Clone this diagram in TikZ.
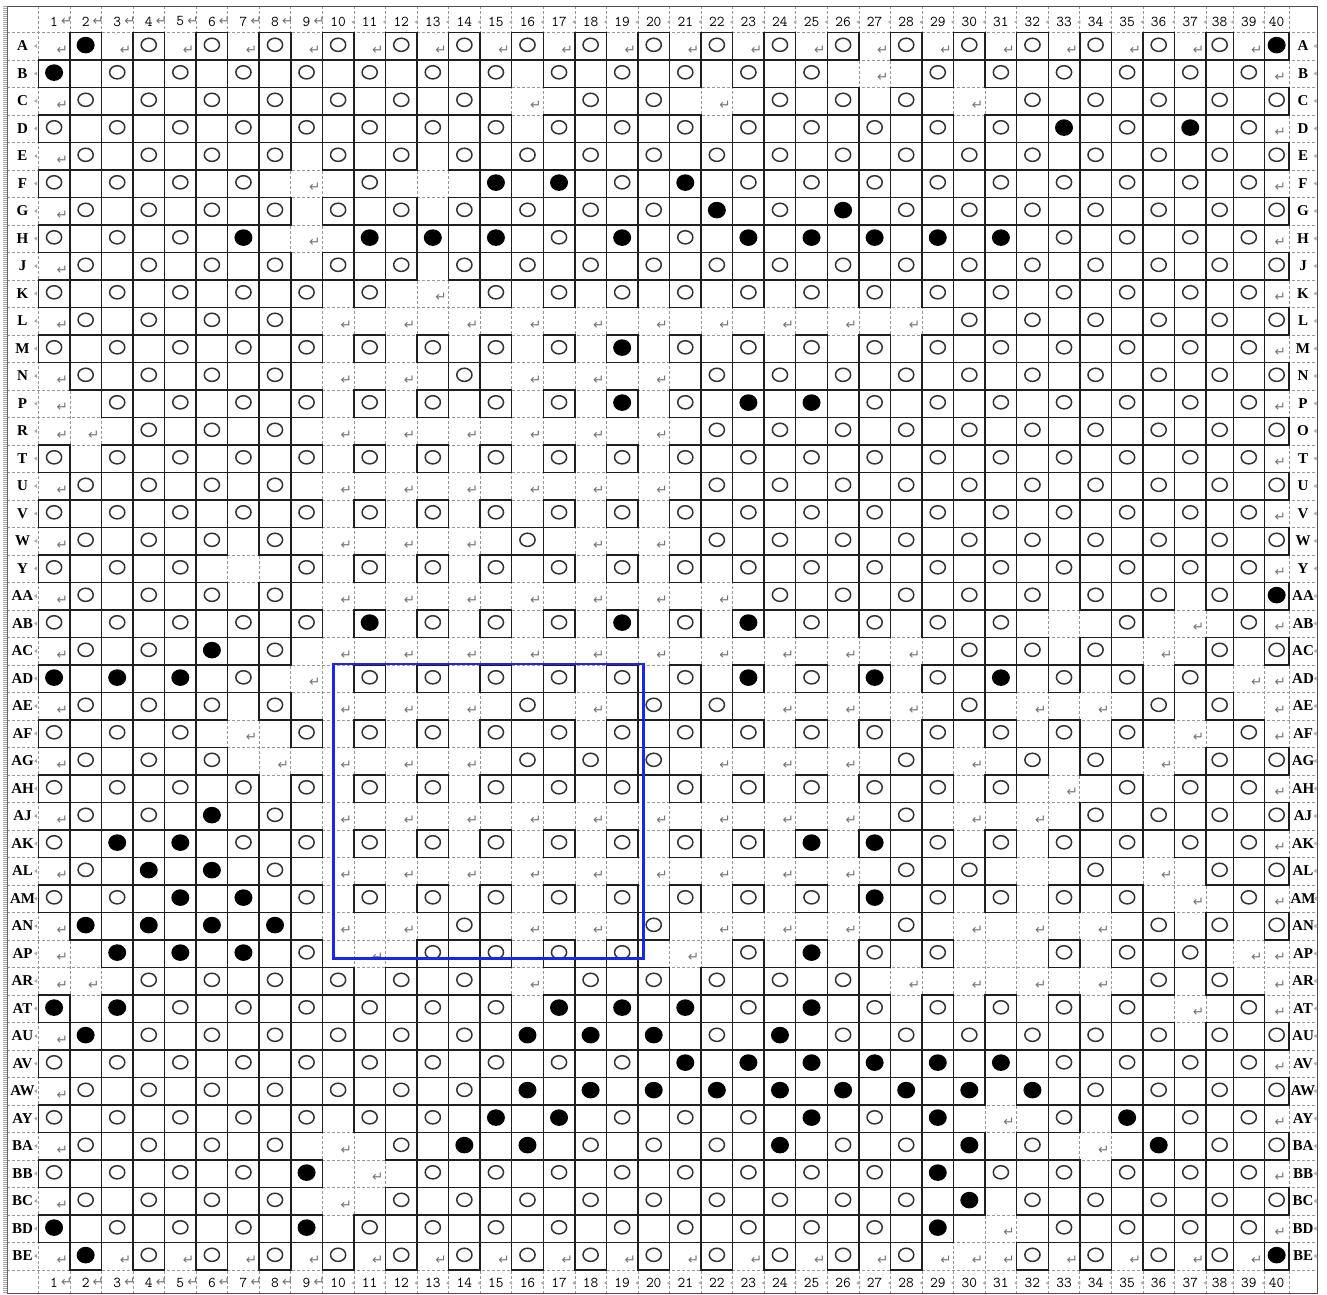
\documentclass[tikz,border=0pt]{standalone}
\usepackage{fontspec}
\newfontfamily\lblfont{Liberation Serif}
\newfontfamily\symfont{DejaVu Sans}

\definecolor{gridgray}{gray}{0.6}
\definecolor{retgray}{gray}{0.45}
\definecolor{boxcol}{gray}{0.12}
\definecolor{selblue}{RGB}{28,36,240}

\tikzset{
  dgrid/.style={draw=gridgray, line width=0.6pt, dash pattern=on 2.5pt off 2.5pt},
  ballbox/.style={draw=boxcol, line width=1.45pt},
  oball/.style={draw=black!80, line width=1.5pt},
  fball/.style={fill=black},
  retmk/.style={font=\symfont\fontsize{13.5}{13.5}\selectfont, text=retgray, inner sep=0pt},
  hdr/.style={font=\ttfamily\fontsize{15}{15}\selectfont, inner sep=0pt},
  lbl/.style={font=\lblfont\bfseries\fontsize{15}{15}\selectfont, inner sep=0pt},
  ticktri/.style={fill=gray!65},
}

% column geometry -> \cxl \cxr \cxc
\newcommand\CellX[1]{%
  \ifnum#1<38\relax
    \pgfmathsetmacro\cxl{38.3+(#1-1)*31.56}%
    \pgfmathsetmacro\cxr{\cxl+31.56}%
  \else\ifnum#1=38\relax
    \def\cxl{1206.0}\def\cxr{1233.3}%
  \else\ifnum#1=39\relax
    \def\cxl{1233.3}\def\cxr{1264.3}%
  \else
    \def\cxl{1264.3}\def\cxr{1289.0}%
  \fi\fi\fi
  \pgfmathsetmacro\cxc{(\cxl+\cxr)/2}%
}
% row geometry -> \ryt \ryb
\newcommand\RowY[1]{\pgfmathsetmacro\ryt{32.3+(#1-1)*27.5}\pgfmathsetmacro\ryb{\ryt+27.5}}

\newcommand\RetMark[2]{\CellX{#1}\RowY{#2}%
  \pgfmathsetmacro\rmx{\cxl+ifthenelse(#1==40,16,0.76*(\cxr-\cxl))}%
  \node[retmk] at (\rmx,\ryt+17.5) {↵};}

\newcommand\TickMark[2]{\fill[ticktri] (#1,#2) -- ++(3,-2) -- ++(0,4) -- cycle;}

\newcommand\BRcell[1]{%
  \ifodd\BRr\relax \edef\BRc{\the\numexpr2*\BRk\relax}\else\edef\BRc{\the\numexpr2*\BRk-1\relax}\fi
  \if#1-\relax \RetMark{\BRc}{\BRr}\fi
  \if#1O\relax \CellX{\BRc}\RowY{\BRr}%
    \draw[ballbox] (\cxl,\ryt) rectangle (\cxr,\ryb);
    \draw[oball] (\cxc,\ryt+12.5) ellipse (7.6 and 6.6);\fi
  \if#1F\relax \CellX{\BRc}\RowY{\BRr}%
    \draw[ballbox] (\cxl,\ryt) rectangle (\cxr,\ryb);
    \fill[fball] (\cxc,\ryt+12.8) ellipse (9 and 8.3);\fi
}
\def\BRscan#1{\ifx#1\relax\else\edef\BRk{\the\numexpr\BRk+1\relax}\BRcell{#1}\expandafter\BRscan\fi}
\newcommand\BallRow[2]{\def\BRr{#1}\def\BRk{0}\BRscan#2\relax}

\begin{document}
\begin{tikzpicture}[x=1pt,y=-1pt]
\useasboundingbox (0,0) rectangle (1327,1294);
\fill[white] (0,0) rectangle (1327,1294);

% dashed table grid
\foreach \c in {1,...,40}{\CellX{\c}\draw[dgrid] (\cxl,6) -- (\cxl,1293);}
\draw[dgrid] (1289,6) -- (1289,1293);
\foreach \r in {0,...,45}{\draw[dgrid] (7,32.3+\r*27.5) -- (1317,32.3+\r*27.5);}

% paragraph marks in border cells
\foreach \c in {1,3,...,39}{\RetMark{\c}{1}\RetMark{\c}{45}}
\foreach \r in {3,5,...,43}{\RetMark{1}{\r}}
\foreach \r in {2,4,...,44}{\RetMark{40}{\r}}

% balls: O open, F filled, - missing, x missing without mark
\BallRow{1}{FOOOOOOOOOOOOOOOOOOF}
\BallRow{2}{FOOOOOOOOOOOO-OOOOOO}
\BallRow{3}{OOOOOOO-OO-OOO-OOOOO}
\BallRow{4}{OOOOOOOOOOOOOOOOFOFO}
\BallRow{5}{OOOOOOOOOOOOOOOOOOOO}
\BallRow{6}{OOOO-OxFFOFOOOOOOOOO}
\BallRow{7}{OOOOOOOOOOFOFOOOOOOO}
\BallRow{8}{OOOF-FFFOFOFFFFFOOOO}
\BallRow{9}{OOOOOOOOOOOOOOOOOOOO}
\BallRow{10}{OOOOOO-OOOOOOOOOOOOO}
\BallRow{11}{OOOO----------OOOOOO}
\BallRow{12}{OOOOOOOOOFOOOOOOOOOO}
\BallRow{13}{OOOO--O---OOOOOOOOOO}
\BallRow{14}{-OOOOOOOOFOFFOOOOOOO}
\BallRow{15}{-OOO------OOOOOOOOOO}
\BallRow{16}{OOOOOOOOOOOOOOOOOOOO}
\BallRow{17}{OOOO------OOOOOOOOOO}
\BallRow{18}{OOOOOOOOOOOOOOOOOOOO}
\BallRow{19}{OOOO---O--OOOOOOOOOO}
\BallRow{20}{OOOxOOOOOOOOOOOOOOOO}
\BallRow{21}{OOOO-------OOOOOOOOF}
\BallRow{22}{OOOOOFOOOFOFOOOOxO-O}
\BallRow{23}{OOFO----------OOO-OO}
\BallRow{24}{FFFO-OOOOOOFOFOFOOO-}
\BallRow{25}{OOOO---O-OO---O--OO-}
\BallRow{26}{OOO-OOOOOOOOOOOOOO-O}
\BallRow{27}{OOO----OOO---O-OO-OO}
\BallRow{28}{OOOOOOOOOOOOOOOO-OOO}
\BallRow{29}{OOFO---------O--OOOO}
\BallRow{30}{OFFOOOOOOOOOFFOOOOOO}
\BallRow{31}{OFFO---------OOxO-OO}
\BallRow{32}{OOFFOOOOOOOOOFOOOO-O}
\BallRow{33}{FFFF--O--O---O---OOO}
\BallRow{34}{-FFFO-OOOO-OFOOxOOO-}
\BallRow{35}{-OOOOOO-OOOOO----OO-}
\BallRow{36}{FFOOOOOOFFFOFOOOOO-O}
\BallRow{37}{FOOOOOOFFFOFOOOOOOOO}
\BallRow{38}{OOOOOOOOOOFFFFFFOOOO}
\BallRow{39}{OOOOOOOFFFFFFFFFOOOO}
\BallRow{40}{OOOOOOOFFOOOFOF-OFOO}
\BallRow{41}{OOOO-OFFOOOFOOFO-FOO}
\BallRow{42}{OOOOF-OOOOOOOOFOOOOO}
\BallRow{43}{OOOO-OOOOOOOOOFOOOOO}
\BallRow{44}{FOOOFOOOOOOOOOF-OOOO}
\BallRow{45}{FOOOOOOOOOOOOO-OOOOF}

% blue selection frame
\draw[selblue, line width=2.4pt] (333.3,664) rectangle (643.3,958.3);

% column numbers, top and bottom
\foreach \c in {1,...,40}{\CellX{\c}%
  \node[hdr] at (\cxc,21.5) {\c};
  \node[hdr] at (\cxc,1283) {\c};}
\foreach \c in {1,...,9}{\CellX{\c}%
  \node[retmk] at (\cxl+28.5,21) {↵};
  \node[retmk] at (\cxl+28.5,1282) {↵};}
\foreach \c in {10,...,39}{\CellX{\c}\TickMark{\cxr-2.5}{22}\TickMark{\cxr-2.5}{1283}}

% row labels
\foreach \lab [count=\r] in {A,B,C,D,E,F,G,H,J,K,L,M,N,P,R,T,U,V,W,Y,AA,AB,AC,AD,AE,AF,AG,AH,AJ,AK,AL,AM,AN,AP,AR,AT,AU,AV,AW,AY,BA,BB,BC,BD,BE}{%
  \RowY{\r}\node[lbl] at (22.5,\ryt+13.7) {\lab};
  \TickMark{34}{\ryt+13.7}}
\foreach \lab [count=\r] in {A,B,C,D,E,F,G,H,J,K,L,M,N,P,O,T,U,V,W,Y,AA,AB,AC,AD,AE,AF,AG,AH,AJ,AK,AL,AM,AN,AP,AR,AT,AU,AV,AW,AY,BA,BB,BC,BD,BE}{%
  \RowY{\r}\node[lbl] at (1303,\ryt+13.7) {\lab};
  \TickMark{1313.5}{\ryt+13.7}}

% outer frame
\draw[black!70, line width=0.9pt] (7,6) -- (1317,6) -- (1317,1293) -- (7,1293);
\draw[gray!70, line width=3.5pt, dash pattern=on 1pt off 1pt] (5.2,6) -- (5.2,1293);
\draw[black!60, line width=0.8pt] (7.8,6) -- (7.8,1293);
\end{tikzpicture}
\end{document}
